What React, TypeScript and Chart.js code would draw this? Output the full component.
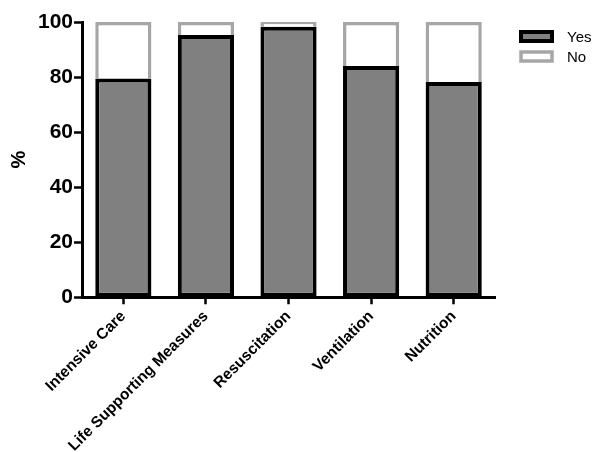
import React, { useEffect, useRef } from "react";
import { Chart, registerables } from "chart.js";

Chart.register(...registerables);

const categories = ["Intensive Care", "Life Supporting Measures", "Resuscitation", "Ventilation", "Nutrition"];
const yesValues = [79.5, 95.3, 98.3, 84.0, 78.2];
const noValues = [20.5, 4.7, 1.7, 16.0, 21.8];
const yTicks = [0, 20, 40, 60, 80, 100];
const yTitle = "%";
const seriesNames = ["Yes", "No"];

const FONT = "Arial, 'Liberation Sans', Helvetica, sans-serif";

const YES_FILL = "#808080";
const YES_BORDER = "#000000";
const NO_FILL = "#ffffff";
const NO_BORDER = "#a6a6a6";

const sideLegend = {
  id: "sideLegend",
  afterDraw(chart: any) {
    const { ctx, chartArea } = chart;
    const x0 = chartArea.right + 26;
    const y0 = chartArea.top + 10;
    const boxW = 31;
    const boxH = 9;
    const rowGap = 20;
    const items = chart.data.datasets.map((ds: any) => ({
      text: ds.label,
      fill: ds.backgroundColor,
      stroke: ds.borderColor,
      lw: ds.borderWidth,
    }));
    ctx.save();
    ctx.font = `15px ${FONT}`;
    ctx.textBaseline = "middle";
    ctx.textAlign = "left";
    items.forEach((it: any, i: number) => {
      const y = y0 + i * rowGap;
      ctx.fillStyle = it.fill;
      ctx.strokeStyle = it.stroke;
      ctx.lineWidth = it.lw;
      ctx.fillRect(x0, y, boxW, boxH);
      ctx.strokeRect(x0, y, boxW, boxH);
      ctx.fillStyle = "#000";
      ctx.fillText(it.text, x0 + boxW + 15, y + boxH / 2 + 1);
    });
    ctx.restore();
  },
};

export default function App() {
  const ref = useRef<HTMLCanvasElement | null>(null);
  useEffect(() => {
    if (!ref.current) return;
    const chart = new Chart(ref.current, {
      type: "bar",
      data: {
        labels: categories,
        datasets: [
          {
            label: seriesNames[0],
            data: yesValues,
            backgroundColor: YES_FILL,
            borderColor: YES_BORDER,
            borderWidth: 4,
            borderSkipped: false,
            barPercentage: 0.68,
            categoryPercentage: 1,
          },
          {
            label: seriesNames[1],
            data: noValues,
            backgroundColor: NO_FILL,
            borderColor: NO_BORDER,
            borderWidth: 3.5,
            borderSkipped: "bottom",
            barPercentage: 0.68,
            categoryPercentage: 1,
          },
        ],
      },
      options: {
        responsive: false,
        animation: false,
        layout: { padding: { top: 22, right: 105, bottom: -6, left: 7 } },
        plugins: {
          tooltip: { enabled: false },
          legend: { display: false },
        },
        scales: {
          x: {
            stacked: true,
            offset: true,
            grid: { display: true, drawOnChartArea: false, offset: false, tickLength: 7, tickWidth: 2.5, color: "#000" },
            border: { color: "#000", width: 3 },
            ticks: {
              maxRotation: 45,
              minRotation: 45,
              color: "#000",
              padding: 3,
              font: { family: FONT, size: 15.5, weight: "bold" },
            },
          },
          y: {
            stacked: true,
            min: 0,
            max: 100,
            afterBuildTicks: (s: any) => {
              s.ticks = yTicks.map((v) => ({ value: v }));
            },
            grid: { drawOnChartArea: false, tickLength: 8, tickWidth: 2.5, color: "#000" },
            border: { color: "#000", width: 3 },
            ticks: {
              color: "#000",
              padding: 1,
              font: { family: FONT, size: 21, weight: "bold" },
            },
            title: {
              display: true,
              text: yTitle,
              color: "#000",
              padding: { top: 0, bottom: 6 },
              font: { family: FONT, size: 20, weight: "bold" },
            },
          },
        },
      },
      plugins: [sideLegend],
    });
    return () => chart.destroy();
  }, []);
  return (
    <div style={{ position: "fixed", left: 0, top: 0, width: 600, height: 452, background: "#fff" }}>
      <canvas ref={ref} width={600} height={452} style={{ width: 600, height: 452 }} />
    </div>
  );
}
